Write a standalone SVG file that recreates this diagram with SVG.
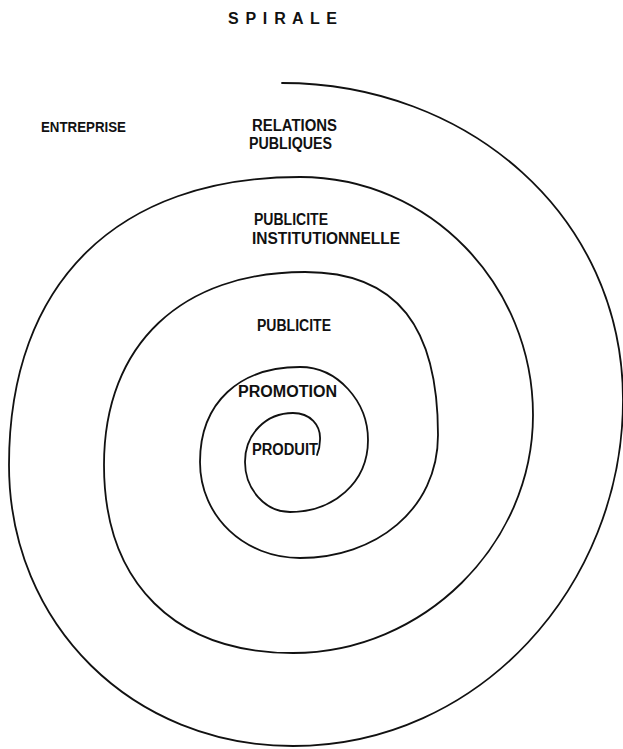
<svg xmlns="http://www.w3.org/2000/svg" width="623" height="749" viewBox="0 0 623 749">
<style>
.lbl{font-family:"Liberation Sans",Arial,sans-serif;font-size:16px;font-weight:bold;fill:#111;}
.spiral{fill:none;stroke:#111;stroke-width:1.8;stroke-linecap:round;}
</style>
<rect width="623" height="749" fill="#ffffff"/>
<g id="spiral">
<path class="spiral" d="M 282,83 C 467,83 623,215 623,400 C 623,586 479,746 293,746 C 133,746 9,625 9,465 C 9,282 118,177 300,177 C 430,177 533,285 533,415 C 533,545 423,653 293,653 C 175,653 104,583 104,465 C 104,343 183,272 305,272 C 398,272 438,328 438,435 C 438,510 375,558 300,558 C 245,558 200,517 200,462 C 200,402 240,367 300,367 C 338,367 368,402 368,440 C 368,483 333,512 290,512 C 265,512 245,489 245,462 C 245,434 266,413 293,413 C 310,413 321,425 320,440 C 320,446 319,450 317,455"/>
</g>
<g id="title"><text class="lbl" x="228" y="24" textLength="109" lengthAdjust="spacing">S P I R A L E</text></g>
<g id="entreprise"><text class="lbl" x="41" y="132" textLength="85" lengthAdjust="spacingAndGlyphs" style="font-size:15px">ENTREPRISE</text></g>
<g id="relations-publiques">
<text class="lbl" x="252" y="131" textLength="85" lengthAdjust="spacingAndGlyphs">RELATIONS</text>
<text class="lbl" x="249" y="149" textLength="83" lengthAdjust="spacingAndGlyphs">PUBLIQUES</text>
</g>
<g id="publicite-institutionnelle">
<text class="lbl" x="254" y="225" textLength="74" lengthAdjust="spacingAndGlyphs">PUBLICITE</text>
<text class="lbl" x="252" y="244" textLength="148" lengthAdjust="spacingAndGlyphs">INSTITUTIONNELLE</text>
</g>
<g id="publicite"><text class="lbl" x="257" y="331" textLength="74" lengthAdjust="spacingAndGlyphs">PUBLICITE</text></g>
<g id="promotion"><text class="lbl" x="238" y="397" textLength="99" lengthAdjust="spacingAndGlyphs">PROMOTION</text></g>
<g id="produit"><text class="lbl" x="252" y="455" textLength="66" lengthAdjust="spacingAndGlyphs">PRODUIT</text></g>
</svg>
